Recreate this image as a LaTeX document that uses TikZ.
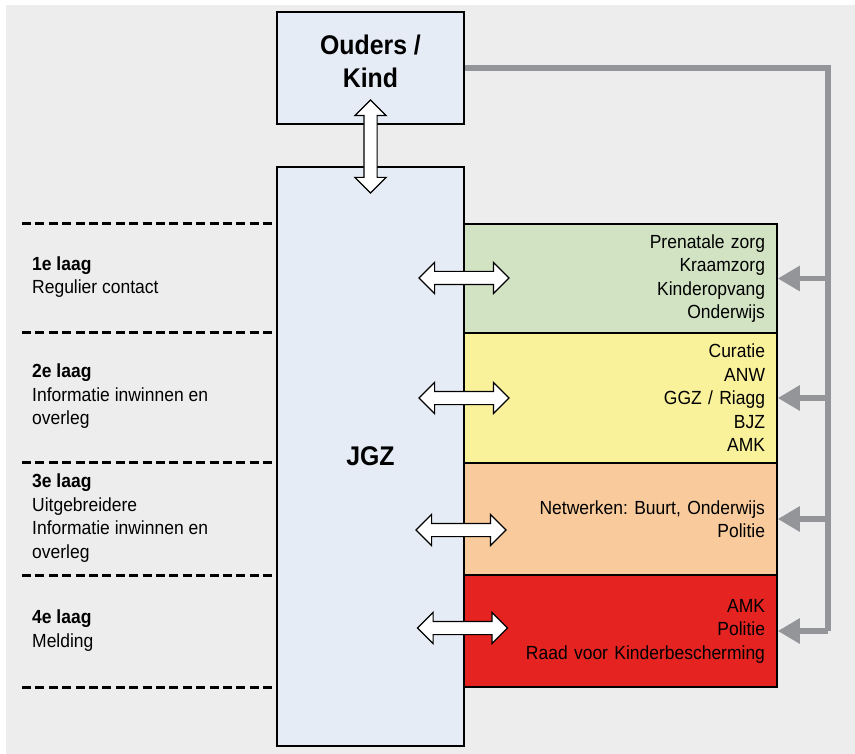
\documentclass[tikz,border=0pt]{standalone}
\usepackage{fontspec}
\setmainfont{Liberation Sans}[FakeStretch=0.92]
\usetikzlibrary{shapes.arrows, arrows.meta}

\definecolor{panel}{HTML}{ECEDEC}
\definecolor{jgzblue}{HTML}{E6ECF6}
\definecolor{laag1}{HTML}{D2E3C4}
\definecolor{laag2}{HTML}{FAF19B}
\definecolor{laag3}{HTML}{F9CB9C}
\definecolor{laag4}{HTML}{E52421}
\definecolor{feedgrey}{HTML}{939598}

\begin{document}
\begin{tikzpicture}[x=1pt, y=-1pt, every node/.style={inner sep=0pt},
	big/.style={draw, line width=1.5pt, fill=jgzblue, minimum width=187pt, align=center, font=\bfseries\fontsize{27}{33}\selectfont},
	laag/.style={draw, line width=1.5pt, minimum width=313pt, text width=289pt, align=right, font=\fontsize{19}{23.5}\selectfont\frenchspacing},
	laagtekst/.style={anchor=west, align=left, font=\fontsize{19}{23.5}\selectfont},
	pijl/.style={double arrow, draw, line width=1.2pt, fill=white, inner xsep=0pt, inner ysep=6pt, double arrow head extend=9pt, minimum height=90pt},
	feed/.style={draw=feedgrey, line width=5.5pt},
	tip/.style={-{Triangle[length=22pt, width=24pt]}},
	sep/.style={line width=3pt, dash pattern=on 9pt off 4.4pt}]
				\useasboundingbox (0,0) rectangle (855,754);
				\fill[panel] (6,5) rectangle (855,754);

				% Nodes
				\node[big, minimum height=112pt, text depth=14pt] (ouders) at (370.5, 68) {Ouders /\\Kind};
				\node[big, minimum height=579pt] (jgz) at (370.5, 456.5) {JGZ};
				\node[laag, fill=laag1, minimum height=109pt] (eerste) at (620.5, 278.5) {Prenatale zorg\\Kraamzorg\\Kinderopvang\\Onderwijs};
				\node[laag, fill=laag2, minimum height=130pt] (tweede) at (620.5, 398) {Curatie\\ANW\\GGZ / Riagg\\BJZ\\AMK};
				\node[laag, fill=laag3, minimum height=112pt] (derde) at (620.5, 519) {Netwerken: Buurt, Onderwijs\\Politie};
				\node[laag, fill=laag4, minimum height=112pt] (vierde) at (620.5, 631) {AMK\\Politie\\Raad voor Kinderbescherming};

				\node[laagtekst] (l1) at (32, 277) {\textbf{1e laag}\\Regulier contact};
				\node[laagtekst] (l2) at (32, 396.5) {\textbf{2e laag}\\Informatie inwinnen en\\overleg};
				\node[laagtekst] (l3) at (32, 518) {\textbf{3e laag}\\Uitgebreidere\\Informatie inwinnen en\\overleg};
				\node[laagtekst] (l4) at (32, 630.5) {\textbf{4e laag}\\Melding};

				\node[pijl, rotate=90, minimum height=93pt] (p0) at (370.5, 146.5) {};
				\node[pijl] (p1) at (464, 278) {};
				\node[pijl] (p2) at (464, 398) {};
				\node[pijl] (p3) at (461, 530) {};
				\node[pijl] (p4) at (462.5, 628) {};

				\coordinate (trunk) at (828, 631);

				% Edges
				\foreach \y in {224, 333, 462.5, 575, 687}
					\draw[sep] (22, \y) -- (jgz.west |- 0, \y);
				\draw[feed] (ouders.east) -| (trunk);
				\draw[feed, tip] (trunk |- eerste.east) -- (eerste.east);
				\draw[feed, tip] (trunk |- tweede.east) -- (tweede.east);
				\draw[feed, tip] (trunk |- derde.east) -- (derde.east);
				\draw[feed, tip] (trunk |- vierde.east) -- (vierde.east);
\end{tikzpicture}
\end{document}
